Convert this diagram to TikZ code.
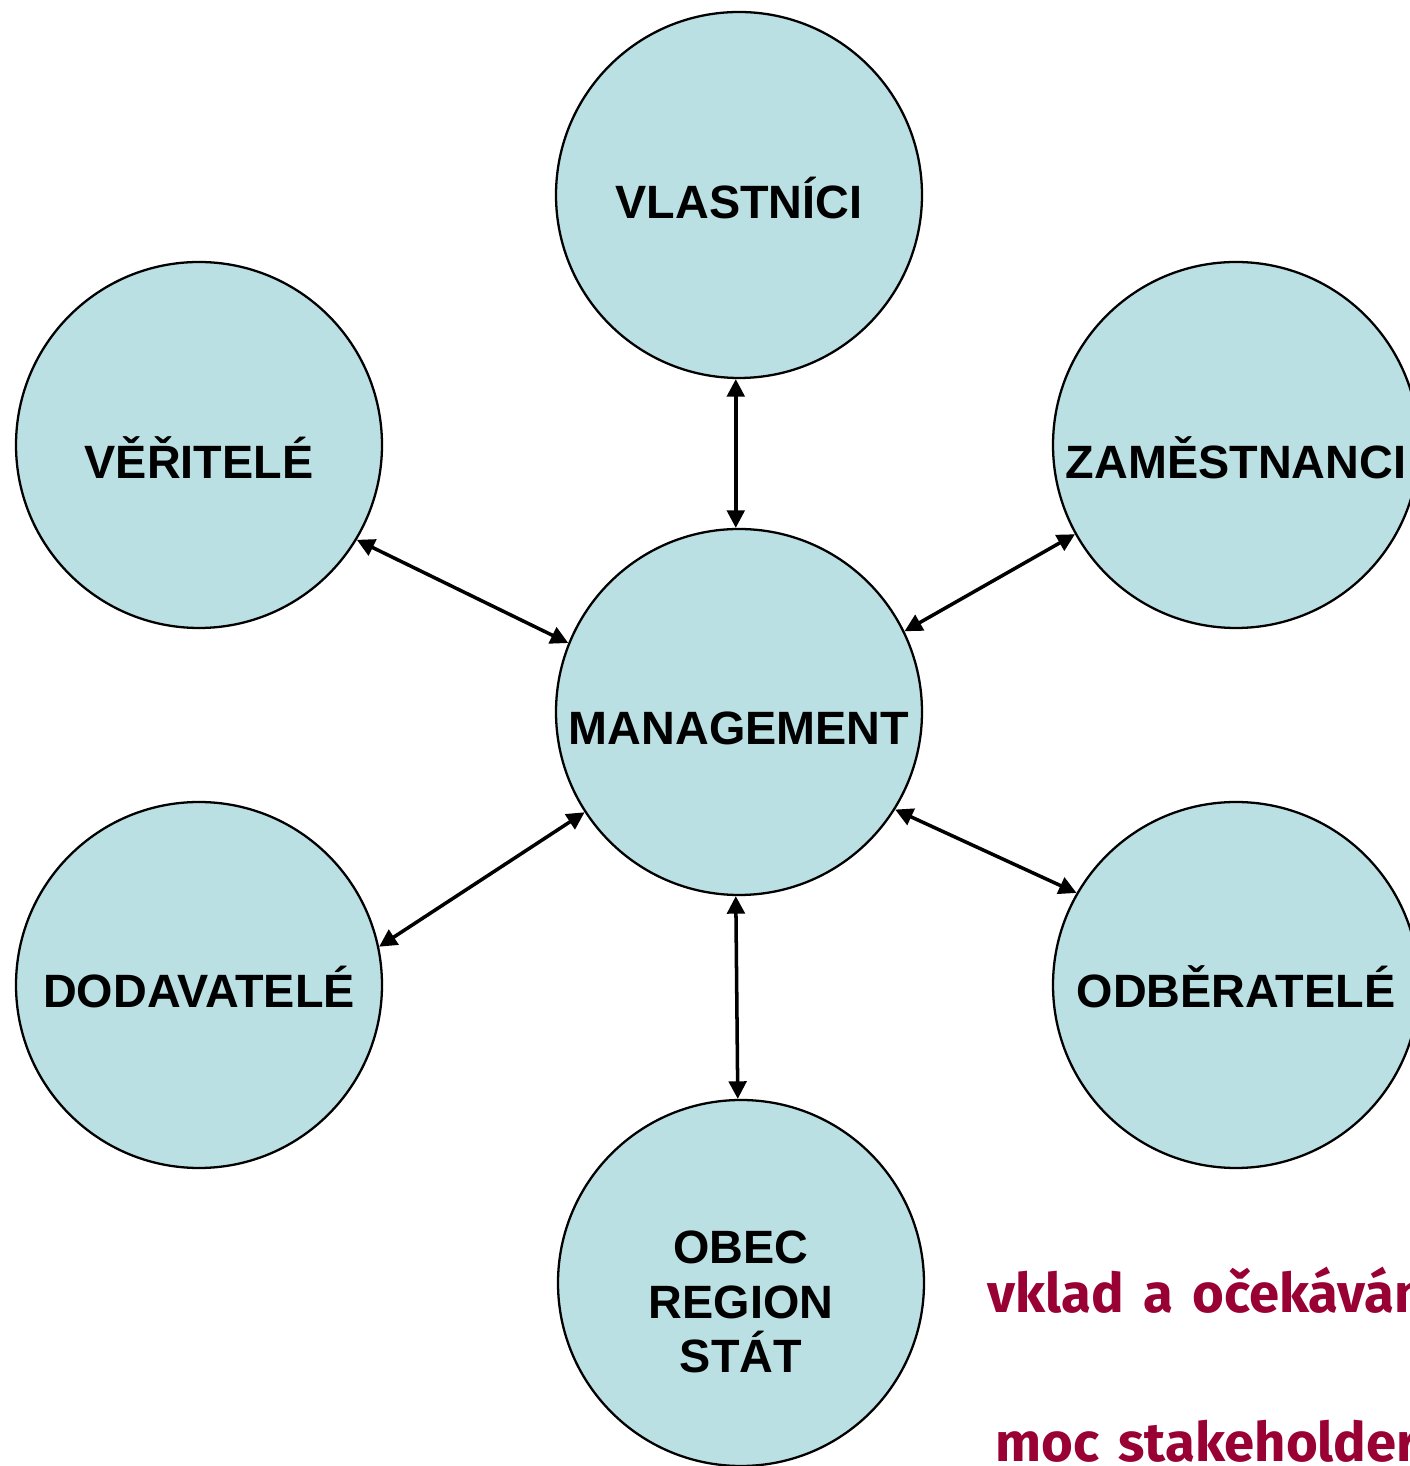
\documentclass[tikz,border=0pt]{standalone}
\usepackage{fontspec}
\setmainfont{Liberation Sans}
\newfontfamily\notefont[WordSpace=1.5]{Fira Sans}
\usetikzlibrary{arrows.meta}
\definecolor{partyfill}{RGB}{186,224,227}
\definecolor{notered}{RGB}{153,0,51}
\tikzset{
party/.style={circle, draw, line width=1.3pt, fill=partyfill, minimum size=7.32cm, inner sep=0pt},
tag/.style={font=\fontsize{26.6}{31}\selectfont\bfseries, text height=19pt, text depth=0pt, inner sep=0pt},
tagblock/.style={font=\fontsize{26.6}{31}\selectfont\bfseries, align=center, inner sep=0pt},
link/.style={{Triangle[length=10pt,width=10pt]}-{Triangle[length=10pt,width=10pt]}, line width=2pt},
note/.style={anchor=base west, inner sep=0pt, text=notered, font=\notefont\fontsize{31}{36}\selectfont\bfseries}
}
\begin{document}
\begin{tikzpicture}
\useasboundingbox (0,0) rectangle (28.2,29.32);
\node[party, label={[tag, yshift=-3.7pt]center:VLASTNÍCI}] (vlastnici) at (14.78,25.42) {};
\node[party, label={[tag, yshift=-9.4pt]center:VĚŘITELÉ}] (veritele) at (3.98,20.42) {};
\node[party, label={[tag, yshift=-9.4pt]center:ZAMĚSTNANCI}] (zamestnanci) at (24.72,20.42) {};
\node[party, label={[tag, yshift=-8.8pt]center:MANAGEMENT}] (management) at (14.78,15.08) {};
\node[party, label={[tag, yshift=-3.4pt]center:DODAVATELÉ}] (dodavatele) at (3.98,9.62) {};
\node[party, label={[tag, yshift=-3.4pt]center:ODBĚRATELÉ}] (odberatele) at (24.72,9.62) {};
\node[party, label={[tagblock, yshift=-10.8pt]center:OBEC\\REGION\\STÁT}] (obec) at (14.82,3.66) {};

\draw[link] (vlastnici.-91) -- (management.91);
\draw[link] (veritele.-31) -- (management.158);
\draw[link] (zamestnanci.-151) -- (management.26);
\draw[link] (dodavatele.12) -- (management.-147);
\draw[link] (odberatele.150) -- (management.-32);
\draw[link] (management.-91) -- (obec.91);

\node[note] (vklad) at (19.74,3.06) {vklad a očekávání};
\node[note] (moc) at (19.9,0.08) {moc stakeholderů};
\end{tikzpicture}
\end{document}
